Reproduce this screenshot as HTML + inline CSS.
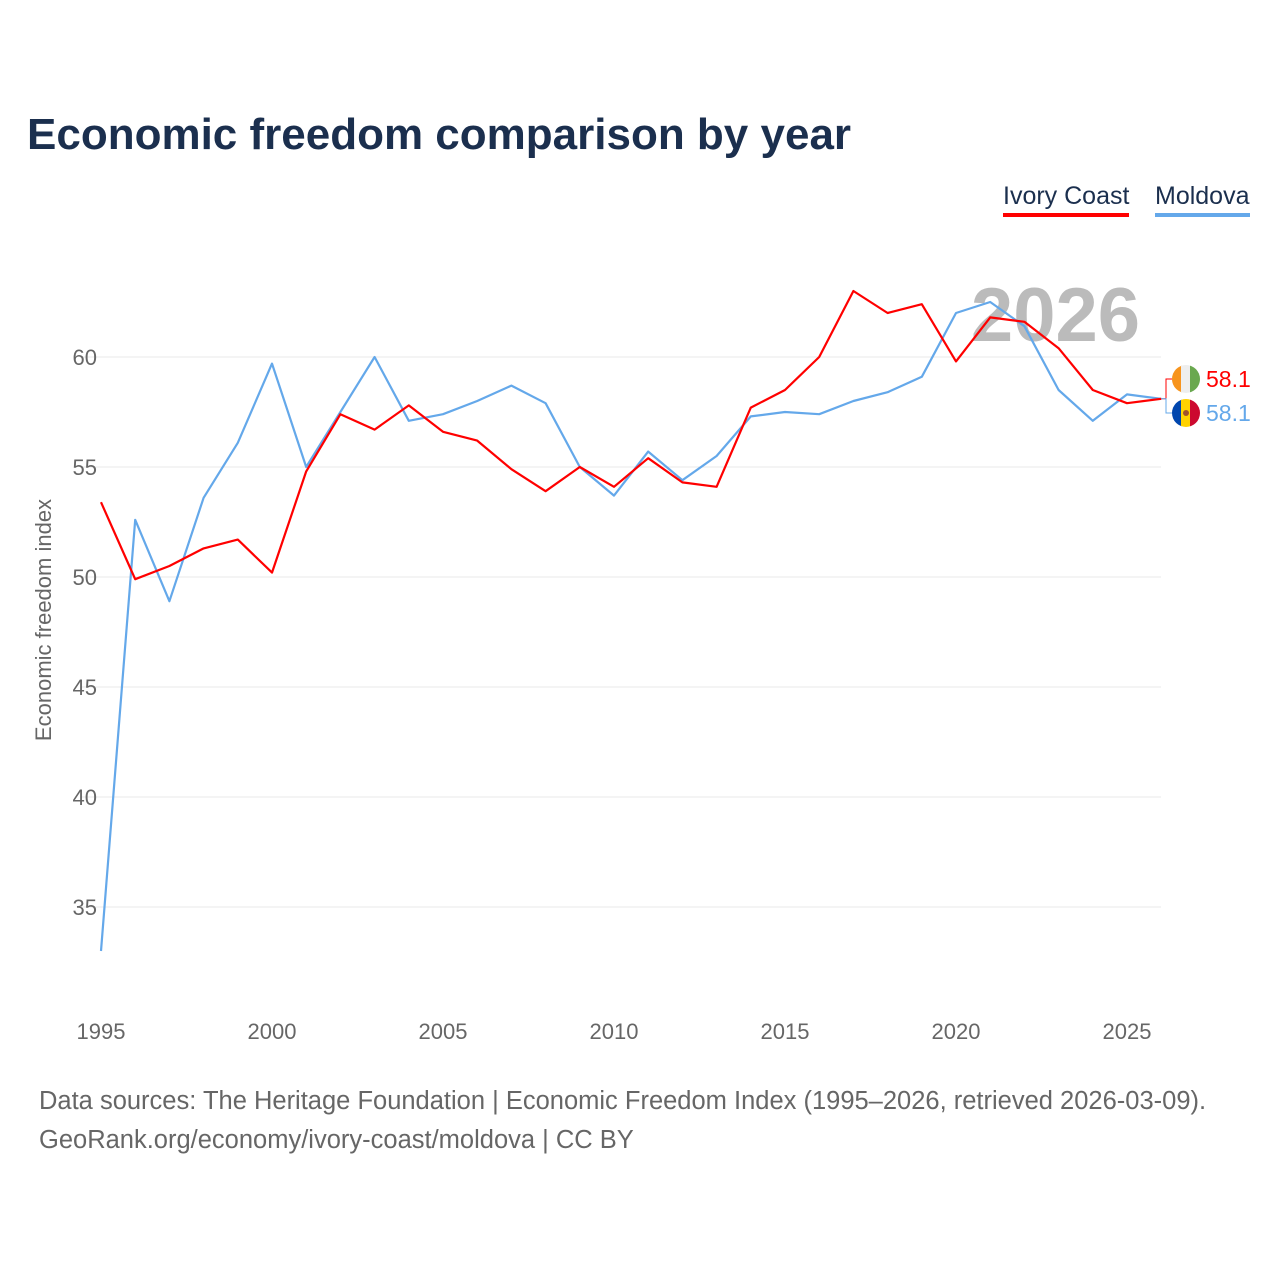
<!DOCTYPE html>
<html><head><meta charset="utf-8">
<style>
html,body{margin:0;padding:0;background:#fff;}
body{width:1280px;height:1280px;position:relative;overflow:hidden;font-family:"Liberation Sans",sans-serif;}
.title{position:absolute;left:27px;top:110px;font-size:44px;font-weight:bold;color:#1b2f4e;letter-spacing:0px;}
.leg{position:absolute;top:182px;font-size:25px;color:#1b2f4e;padding-bottom:2px;}
.src{position:absolute;left:39px;font-size:25.5px;color:#666;}
</style></head><body>
<div class="title">Economic freedom comparison by year</div>
<div class="leg" style="left:1003px;border-bottom:4px solid #f00">Ivory Coast</div>
<div class="leg" style="left:1155px;border-bottom:4px solid #64a8ea">Moldova</div>
<svg id="chart" width="1280" height="1280" style="position:absolute;left:0;top:0"></svg>
<div class="src" style="top:1087px">Data sources: The Heritage Foundation | Economic Freedom Index (1995–2026, retrieved 2026-03-09).</div>
<div class="src" style="top:1126px">GeoRank.org/economy/ivory-coast/moldova | CC BY</div>
<script>
const years=[1995,1996,1997,1998,1999,2000,2001,2002,2003,2004,2005,2006,2007,2008,2009,2010,2011,2012,2013,2014,2015,2016,2017,2018,2019,2020,2021,2022,2023,2024,2025,2026];
const ivoryCoast=[53.4,49.9,50.5,51.3,51.7,50.2,54.8,57.4,56.7,57.8,56.6,56.2,54.9,53.9,55.0,54.1,55.4,54.3,54.1,57.7,58.5,60.0,63.0,62.0,62.4,59.8,61.8,61.6,60.4,58.5,57.9,58.1];
const moldova=[33.0,52.6,48.9,53.6,56.1,59.7,55.0,57.5,60.0,57.1,57.4,58.0,58.7,57.9,55.0,53.7,55.7,54.4,55.5,57.3,57.5,57.4,58.0,58.4,59.1,62.0,62.5,61.4,58.5,57.1,58.3,58.1];
const yTicks=[35,40,45,50,55,60];
const xTicks=[1995,2000,2005,2010,2015,2020,2025];
const NS="http://www.w3.org/2000/svg";
const svg=document.getElementById('chart');
const xs=y=>101+(y-1995)*(1127-101)/30;
const ys=v=>357+(60-v)*22;
function mk(t,a,p){const e=document.createElementNS(NS,t);for(const k in a)e.setAttribute(k,a[k]);(p||svg).appendChild(e);return e;}
for(const t of yTicks){
  const l=mk('line',{x1:80,x2:1161,y1:ys(t),y2:ys(t),stroke:'#e8e8e8','stroke-width':1});
  
  
  const tx=mk('text',{x:97,y:ys(t)+8,'text-anchor':'end','font-size':22,fill:'#666','font-family':'Liberation Sans, sans-serif'});
  tx.textContent=t;
  
  
}
for(const t of xTicks){
  const tx=mk('text',{x:xs(t),y:1039,'text-anchor':'middle','font-size':22,fill:'#666','font-family':'Liberation Sans, sans-serif'});
  tx.textContent=t;
  
  
}
const yt=mk('text',{x:0,y:0,transform:'translate(51,620) rotate(-90)','text-anchor':'middle','font-size':22,fill:'#666','font-family':'Liberation Sans, sans-serif'});
yt.textContent='Economic freedom index';


const yr=mk('text',{x:1140,y:341,'text-anchor':'end','font-size':76,'font-weight':'bold',fill:'#bbb','font-family':'Liberation Sans, sans-serif'});
yr.textContent='2026';


function series(vals,color,name){
  const d=vals.map((v,i)=>(i?'L':'M')+xs(years[i]).toFixed(1)+','+ys(v).toFixed(1)).join('');
  const p=mk('path',{d:d,fill:'none',stroke:color,'stroke-width':2.2,'stroke-linejoin':'round'});
  
  
}
series(moldova,'#64a8ea','line-moldova');
series(ivoryCoast,'#f00','line-ivory-coast');
const lastI=ivoryCoast[ivoryCoast.length-1], lastM=moldova[moldova.length-1];
const yI=379, yM=413, y0=ys(lastI);
mk('path',{d:`M1161,${y0}L1166,${y0}L1166,${yI}L1172,${yI}`,fill:'none',stroke:'#f00','stroke-width':1});
mk('path',{d:`M1161,${ys(lastM)}L1166,${ys(lastM)}L1166,${yM}L1172,${yM}`,fill:'none',stroke:'#64a8ea','stroke-width':1});
const g1=mk('g',{});


mk('clipPath',{id:'c1'},g1).appendChild(document.createElementNS(NS,'circle'));
const c1=g1.querySelector('circle');c1.setAttribute('cx',1186);c1.setAttribute('cy',yI);c1.setAttribute('r',14);
mk('rect',{x:1172,y:yI-14,width:10,height:28,fill:'#f7941d','clip-path':'url(#c1)'},g1);
mk('rect',{x:1181,y:yI-14,width:10,height:28,fill:'#eee','clip-path':'url(#c1)'},g1);
mk('rect',{x:1190,y:yI-14,width:10,height:28,fill:'#6aa84f','clip-path':'url(#c1)'},g1);
const g2=mk('g',{});


mk('clipPath',{id:'c2'},g2).appendChild(document.createElementNS(NS,'circle'));
const c2=g2.querySelector('circle');c2.setAttribute('cx',1186);c2.setAttribute('cy',yM);c2.setAttribute('r',14);
mk('rect',{x:1172,y:yM-14,width:10,height:28,fill:'#0046ae','clip-path':'url(#c2)'},g2);
mk('rect',{x:1181,y:yM-14,width:10,height:28,fill:'#ffd200','clip-path':'url(#c2)'},g2);
mk('rect',{x:1190,y:yM-14,width:10,height:28,fill:'#cc092f','clip-path':'url(#c2)'},g2);
mk('circle',{cx:1186,cy:yM,r:3,fill:'#a0522d'},g2);
const l1=mk('text',{x:1206,y:yI+8,'font-size':23,fill:'#f00','font-family':'Liberation Sans, sans-serif'});
l1.textContent=lastI.toFixed(1);


const l2=mk('text',{x:1206,y:yM+8,'font-size':23,fill:'#64a8ea','font-family':'Liberation Sans, sans-serif'});
l2.textContent=lastM.toFixed(1);


</script>
</body></html>
